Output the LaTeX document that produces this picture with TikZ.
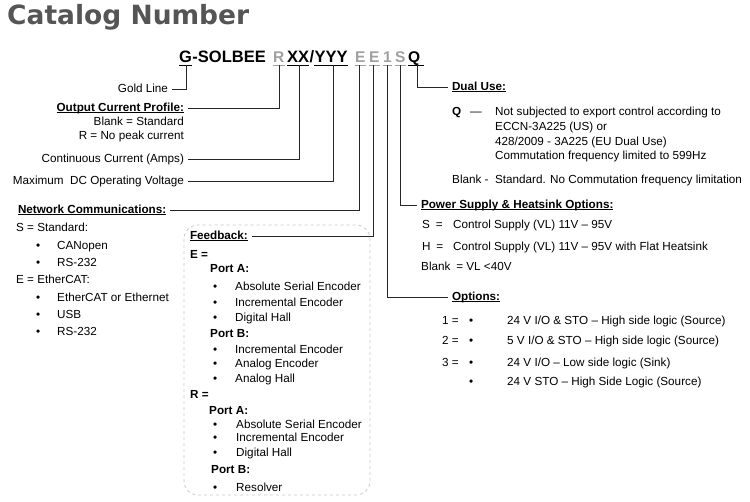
\documentclass[tikz,border=0pt]{standalone}
\usepackage{fontspec}
\setmainfont{Liberation Sans}
\newfontfamily\headfont{DejaVu Sans}
\usetikzlibrary{calc,positioning}
\definecolor{titlegray}{HTML}{555555}
\definecolor{codegray}{HTML}{A0A0A0}
\definecolor{boxgray}{HTML}{C8C8C8}
% heading underline just below the baseline
\newcommand{\hul}[1]{\setbox0=\hbox{#1}\rlap{\rule[-1.8pt]{\wd0}{0.8pt}}\box0}

\begin{document}
\begin{tikzpicture}[x=1pt,y=-1pt,
  font=\fontsize{11.7}{14}\selectfont,
  every node/.style={inner sep=0pt},
  txt/.style={anchor=west, text height=8.6pt, text depth=2.5pt},
  rtxt/.style={anchor=east, text height=8.6pt, text depth=2.5pt},
  lbl/.style={outer xsep=4pt},
  hd/.style={font=\fontsize{11.7}{14}\selectfont\bfseries},
  code/.style={anchor=base west, text height=12pt, text depth=0pt,
    font=\fontsize{16.5}{17}\selectfont\bfseries},
  letter/.style={code, font=\fontsize{15.5}{17}\selectfont\bfseries},
  ul/.style={line width=1pt},
  link/.style={line width=1pt, draw=black!85}]
  \useasboundingbox (0,0) rectangle (750,501);

  \node[anchor=west, font=\headfont\fontsize{26.5}{30}\selectfont\bfseries, text=titlegray] (title) at (7,17.5) {Catalog Number};

  % catalog code
  \node[code] (cG) at (179,62.5) {G};
  \node[code] (cSol) at (cG.base east) {-SOLBEE};
  \node[letter, text=codegray] (cR) at (273,62.5) {R};
  \node[code] (cX) at (287,62.5) {XX};
  \node[code] (cSl) at (cX.base east) {/};
  \node[code] (cY) at (cSl.base east) {YYY};
  \node[letter, text=codegray] (cE1) at (355,62.5) {E};
  \node[letter, text=codegray] (cE2) at (369,62.5) {E};
  \node[letter, text=codegray] (c1) at (383,62.5) {1};
  \node[letter, text=codegray] (cS) at (395,62.5) {S};
  \node[letter] (cQ) at (408,62.5) {Q};
  \foreach \n in {cG,cX,cY}
    \draw[ul] ($(\n.south west)+(0,2.5)$) -- ($(\n.south east)+(0,2.5)$);
  \draw[ul] ($(cQ.south west)+(0,2.5)$) -- ($(cQ.south east)+(4,2.5)$);
  \foreach \n in {cR,cE1,cE2,c1,cS}
    \draw[ul,codegray] ($(\n.south west)+(0,2.5)$) -- ($(\n.south east)+(0,2.5)$);

  \coordinate (tG) at (186,65);
  \coordinate (tR) at (279,65);
  \coordinate (tX) at (299,65);
  \coordinate (tY) at (333,65);
  \coordinate (tE1) at (359,65);
  \coordinate (tE2) at (373,65);
  \coordinate (t1) at (387,65);
  \coordinate (tS) at (400,65);
  \coordinate (tQ) at (417,65);

  % left labels
  \node[rtxt,lbl] (gold) at (172,89) {Gold Line};
  \node[rtxt,lbl,hd] (ocp) at (188,108) {\hul{Output Current Profile:}};
  \node[rtxt] (ocp-1) at (184,122) {Blank = Standard};
  \node[rtxt] (ocp-2) at (184,136) {R = No peak current};
  \node[rtxt,lbl] (cont) at (188,159) {Continuous Current (Amps)};
  \node[rtxt,lbl] (maxv) at (188,181) {Maximum~ DC Operating Voltage};

  % network
  \node[txt,lbl,hd] (net) at (14,210) {\hul{Network Communications:}};
  \node[txt] (net-s) at (16,228) {S = Standard:};
  \foreach \t/\y [count=\i] in {CANopen/246, RS-232/263} {
    \node[txt] (nsb\i) at (36,\y) {\textbullet};
    \node[txt] (nst\i) at (57,\y) {\t};
  }
  \node[txt] (net-e) at (16,280) {E = EtherCAT:};
  \foreach \t/\y [count=\i] in {EtherCAT or Ethernet/298, USB/315, RS-232/332} {
    \node[txt] (neb\i) at (36,\y) {\textbullet};
    \node[txt] (net\i) at (57,\y) {\t};
  }

  % feedback
  \draw[boxgray, dashed, rounded corners=14pt, line width=0.8pt] (184,225) rectangle (370,495);
  \node[txt,lbl,hd] (fb) at (186,236) {\hul{Feedback:}};
  \node[txt,hd] (fb-e) at (190,255) {E =};
  \node[txt,hd] (fb-ea) at (210,269) {Port A:};
  \foreach \t/\y [count=\i] in {Absolute Serial Encoder/287, Incremental Encoder/303, Digital Hall/318} {
    \node[txt] (feab\i) at (213,\y) {\textbullet};
    \node[txt] (feat\i) at (235,\y) {\t};
  }
  \node[txt,hd] (fb-eb) at (210,334) {Port B:};
  \foreach \t/\y [count=\i] in {Incremental Encoder/350, Analog Encoder/364, Analog Hall/379} {
    \node[txt] (febb\i) at (213,\y) {\textbullet};
    \node[txt] (febt\i) at (235,\y) {\t};
  }
  \node[txt,hd] (fb-r) at (190,395) {R =};
  \node[txt,hd] (fb-ra) at (209,411) {Port A:};
  \foreach \t/\y [count=\i] in {Absolute Serial Encoder/425, Incremental Encoder/438, Digital Hall/453} {
    \node[txt] (frab\i) at (213,\y) {\textbullet};
    \node[txt] (frat\i) at (236,\y) {\t};
  }
  \node[txt,hd] (fb-rb) at (211,470) {Port B:};
  \node[txt] (frbb1) at (213,488) {\textbullet};
  \node[txt] (frbt1) at (236,488) {Resolver};

  % dual use
  \node[txt,lbl,hd] (dual) at (448,87) {\hul{Dual Use:}};
  \node[txt,hd] (dq) at (452,112) {Q};
  \node[txt] (dq-dash) at (470,112) {\textemdash};
  \node[txt] (dq-1) at (495,112) {Not subjected to export control according to};
  \node[txt] (dq-2) at (495,127) {ECCN-3A225 (US) or};
  \node[txt] (dq-3) at (495,142) {428/2009 - 3A225 (EU Dual Use)};
  \node[txt] (dq-4) at (495,156) {Commutation frequency limited to 599Hz};
  \node[txt] (dblank) at (452,180) {Blank -\ \ Standard. No Commutation frequency limitation};

  % power supply
  \node[txt,lbl,hd] (psu) at (417,205) {\hul{Power Supply \& Heatsink Options:}};
  \node[txt] (ps-s) at (422,225) {S\enspace=};
  \node[txt] (ps-st) at (453,225) {Control Supply (VL) 11V \textendash{} 95V};
  \node[txt] (ps-h) at (422,247) {H\enspace=};
  \node[txt] (ps-ht) at (453,247) {Control Supply (VL) 11V \textendash{} 95V with Flat Heatsink};
  \node[txt] (ps-b) at (421,267) {Blank\enspace= VL <40V};

  % options
  \node[txt,lbl,hd] (opt) at (448,297) {\hul{Options:}};
  \foreach \k/\t/\y [count=\i] in {{1 =}/{24 V I/O \& STO \textendash{} High side logic (Source)}/321,
      {2 =}/{5 V I/O \& STO \textendash{} High side logic (Source)}/341,
      {3 =}/{24 V I/O \textendash{} Low side logic (Sink)}/363} {
    \node[txt] (ok\i) at (442,\y) {\k};
    \node[txt] (ob\i) at (469,\y) {\textbullet};
    \node[txt] (ot\i) at (507,\y) {\t};
  }
  \node[txt] (ob4) at (469,382) {\textbullet};
  \node[txt] (ot4) at (507,382) {24 V STO \textendash{} High Side Logic (Source)};

  % connectors
  \draw[link] (tG) |- (gold);
  \draw[link] (tR) |- (ocp);
  \draw[link] (tX) |- (cont);
  \draw[link] (tY) |- (maxv);
  \draw[link] (tE1) |- (net);
  \draw[link] (tE2) |- (fb);
  \draw[link] (t1) |- (opt);
  \draw[link] (tS) |- (psu);
  \draw[link] (tQ) |- (dual);
\end{tikzpicture}
\end{document}
